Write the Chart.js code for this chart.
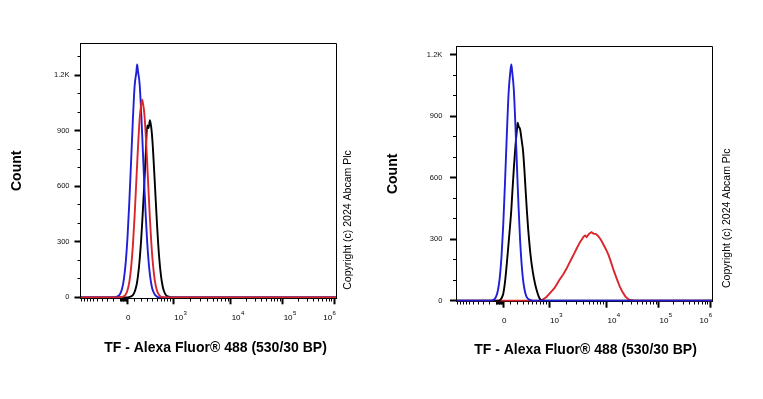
<!DOCTYPE html>
<html><head><meta charset="utf-8">
<script src="https://cdn.jsdelivr.net/npm/chart.js@4.4.1/dist/chart.umd.min.js"></script>
<style>
html,body{margin:0;padding:0;background:#fff;width:763px;height:399px;overflow:hidden}
canvas{position:absolute;top:0}
#c1{left:0}
#c2{left:380px}
</style></head><body>
<canvas id="c1" width="380" height="399"></canvas>
<canvas id="c2" width="383" height="399"></canvas>
<script>
// ---------- data (raw fluorescence bins -> counts) ----------
const leftBins  = [-1100,-300,-200,-150,-125,-100,-75,-50,-25,0,25,50,75,100,125,137,150,175,200,215,225,250,275,300,325,350,375,400,450,500,550,600,650,700,750,800,900,1000,1100000];
const leftBlue  = [0,0,0,4,9,22,48,100,188,325,512,733,957,1140,1215,1258,1220,1151,990,876,797,604,434,297,195,123,75,44,15,4,0,0,0,0,0,0,0,0,0];
const leftRed   = [0,0,0,0,0,1,2,6,16,38,82,159,278,439,627,718,813,964,1045,1068,1052,993,872,723,568,426,305,211,92,36,13,4,1,0,0,0,0,0,0];
const leftBlack = [0,0,0,0,0,0,0,0,0,0,2,5,12,29,61,84,117,203,320,403,462,615,780,928,914,957,921,845,620,395,222,115,55,25,11,5,1,0,0];

const rightBins  = [-1100,-200,-150,-125,-100,-75,-50,-25,0,25,50,75,100,113,125,150,175,200,210,225,250,275,300,325,350,375,400,450,500,550,600,650,700,750,800,900,1000,1250,1500,1750,2000,2250,2500,2750,3000,3250,3500,3750,4000,4250,4500,4750,5000,5500,6000,6500,7000,7500,8000,9000,10000,11000,12000,13000,14000,15000,16000,18000,20000,23000,26000,30000,35000,1100000];
const rightBlue  = [0,0,3,8,21,51,110,215,376,587,817,1018,1120,1152,1120,1030,850,644,562,451,293,180,104,58,30,15,8,2,
  0,0,0,0,0,0,0,0,0,0, 0,0,0,0,0,0,0,0,0,0, 0,0,0,0,0,0,0,0,0,0, 0,0,0,0,0,0,0,0,0,0, 0,0,0,0,0,0];
const rightBlack = [0,0,0,0,0,0,2,12,35,95,185,284,384,442,510,643,755,840,868,850,835,785,732,640,530,430,345,220,140,86,48,21,5,
  0,0,0,0,0,0,0,0,0,0, 0,0,0,0,0,0,0,0,0,0, 0,0,0,0,0,0,0,0,0,0, 0,0,0,0,0,0,0,0,0,0, 0];
const rightRed   = [0,0,0,0,0,0,0,0,0,0, 0,0,0,0,0,0,0,0,0,0, 0,0,0,0,0,0,0,0,0,0, 0,0,0,
  3,8,18,32,62,100,126,154,183,208,231,252,271,287,300,312,318,310,318,327,334,326,326,318,308,297,270,245,222,194,167,143,122,103,70,46,21,8,2,0,0];

// ---------- axis ticks / labels ----------
const xMajorRaw  = [0, 1000, 10000, 100000, 1000000];
const xMajorBase = ['0', '10', '10', '10', '10'];
const xMajorExp  = ['', '3', '4', '5', '6'];
const xMinorRaw  = [-1000,-900,-800,-700,-600,-500,-400,-300,-200,-100,-90,-80,-70,-60,-50,-40,-30,-20,-10,
  100,200,300,400,500,600,700,800,900,2000,3000,4000,5000,6000,7000,8000,9000,
  20000,30000,40000,50000,60000,70000,80000,90000,200000,300000,400000,500000,600000,700000,800000,900000];
const yMajor       = [0, 300, 600, 900, 1200];
const yMajorLabels = ['0', '300', '600', '900', '1.2K'];
const yTicksLeft   = [0,100,200,300,400,500,600,700,800,900,1000,1100,1200,1300];
const yTicksRight  = [0,100,200,300,400,500,600,700,800,900,1000,1100,1200];
const xTitle = 'TF - Alexa Fluor\u00AE 488 (530/30 BP)';
const yTitle = 'Count';
const copyrightText = 'Copyright (c) 2024 Abcam Plc';

const FONT = "'Liberation Sans', Arial, Helvetica, sans-serif";
const BLUE = '#1f1fd8', RED = '#d8262c', BLACK = '#000000';

// biexponential-style display transform (raw value -> display channel)
function T(v) {
  const a = Math.abs(v);
  let d;
  if (a <= 1000) d = 26.6 * Math.asinh(a / 370);
  else if (a <= 1e4) d = 45.75 + 57.4 * Math.log10(a / 1e3);
  else if (a <= 1e5) d = 103.15 + 52 * Math.log10(a / 1e4);
  else d = 155.15 + 51.6 * Math.log10(a / 1e5);
  return v < 0 ? -d : d;
}
const xAllRaw = xMajorRaw.concat(xMinorRaw).sort((a, b) => a - b);
const xMajorDisp = xMajorRaw.map(T);
const isXMajor = c => !c.tick || xMajorDisp.some(m => Math.abs(m - c.tick.value) < 1e-6);
const isYMajor = c => !c.tick || c.tick.value % 300 === 0;

const decorPlugin = {
  id: 'decor',
  afterDraw(chart, args, o) {
    const {ctx, chartArea: ca} = chart;
    const xs = chart.scales.x;
    ctx.save();
    ctx.strokeStyle = '#000'; ctx.lineWidth = 1;
    const L = Math.round(ca.left - 0.5) + 0.5, R = Math.round(ca.right - 0.5) + 0.5;
    const Tp = Math.round(ca.top - 0.5) + 0.5, B = Math.round(ca.bottom - 0.5) + 0.5;
    ctx.beginPath(); ctx.moveTo(L, B); ctx.lineTo(L, Tp); ctx.lineTo(R, Tp); ctx.lineTo(R, B); ctx.stroke();

    const base = ca.bottom + o.labelDy;
    ctx.fillStyle = '#000'; ctx.textBaseline = 'alphabetic';
    xMajorRaw.forEach((r, i) => {
      const px = xs.getPixelForValue(T(r));
      ctx.font = '8px ' + FONT;
      if (!xMajorExp[i]) { ctx.textAlign = 'center'; ctx.fillText(xMajorBase[i], px + 0.8, base); return; }
      const w1 = ctx.measureText(xMajorBase[i]).width;
      ctx.font = '6px ' + FONT;
      const w2 = ctx.measureText(xMajorExp[i]).width;
      let sx = px + 1;
      if (sx + w1 + w2 + 0.5 > ca.right) sx = ca.right - w1 - w2 - 0.5;
      ctx.textAlign = 'left';
      ctx.font = '8px ' + FONT; ctx.fillText(xMajorBase[i], sx, base);
      ctx.font = '6px ' + FONT; ctx.fillText(xMajorExp[i], sx + w1 + 0.4, base - 5.5);
    });

    ctx.fillStyle = '#000'; ctx.font = 'bold 14px ' + FONT;
    ctx.textAlign = 'center'; ctx.textBaseline = 'middle';
    ctx.fillText(xTitle, o.titleX, o.titleY);

    ctx.translate(o.copyX, o.copyY); ctx.rotate(-Math.PI / 2);
    ctx.font = '10.5px ' + FONT;
    ctx.fillText(copyrightText, 0, 0);
    ctx.restore();
  }
};

function makeChart(id, p) {
  return new Chart(document.getElementById(id), {
    type: 'line',
    data: {
      datasets: p.series.map(s => ({
        label: s.name,
        data: s.xs.map((r, i) => ({x: T(r), y: s.ys[i]})),
        borderColor: s.color, backgroundColor: s.color,
        borderWidth: 1.9, pointRadius: 0, fill: false,
        cubicInterpolationMode: s.smooth ? 'monotone' : 'default',
        tension: s.smooth ? 0.4 : 0
      }))
    },
    options: {
      responsive: false, animation: false, devicePixelRatio: 1,
      layout: {padding: p.pad},
      plugins: {legend: {display: false}, tooltip: {enabled: false}, decor: p.decor},
      scales: {
        x: {
          type: 'linear', min: p.xMin, max: p.xMax,
          afterFit(s) { s.height = p.xHeight; },
          afterBuildTicks(s) { s.ticks = xAllRaw.map(r => ({value: T(r)})); },
          ticks: {display: false, autoSkip: false},
          grid: {display: true, drawOnChartArea: false, drawTicks: true, tickLength: 6, tickColor: '#000',
            tickWidth: c => isXMajor(c) ? 2 : 1,
            tickBorderDash: c => isXMajor(c) ? [] : [2.5, 10],
            tickBorderDashOffset: 0},
          border: {display: true, color: '#000', width: 1}
        },
        y: {
          type: 'linear', min: p.yMin, max: p.yMax,
          afterFit(s) { s.width = p.yWidth; },
          afterBuildTicks(s) { s.ticks = p.yTicks.map(v => ({value: v})); },
          ticks: {autoSkip: false, padding: p.yLabPad, color: '#111', font: {family: FONT, size: 7.5},
            callback: v => { const i = yMajor.indexOf(v); return i >= 0 ? yMajorLabels[i] : ''; }},
          grid: {display: true, drawOnChartArea: false, drawTicks: true, tickLength: 6, tickColor: '#000',
            tickWidth: c => isYMajor(c) ? 2 : 1,
            tickBorderDash: c => isYMajor(c) ? [] : [3, 3],
            tickBorderDashOffset: c => isYMajor(c) ? 0 : 3},
          border: {display: true, color: '#000', width: 1},
          title: {display: true, text: yTitle, color: '#000',
            font: {family: FONT, size: 14, weight: 'bold'}, padding: {top: p.yTitlePad, bottom: 0}}
        }
      }
    },
    plugins: [decorPlugin]
  });
}

makeChart('c1', {
  series: [
    {name: 'TF antibody', xs: leftBins, ys: leftRed, color: RED, smooth: true},
    {name: 'Isotype control', xs: leftBins, ys: leftBlue, color: BLUE, smooth: true},
    {name: 'Unlabelled control', xs: leftBins, ys: leftBlack, color: BLACK, smooth: true}
  ],
  pad: {left: 0, right: 44, top: 43.3, bottom: 0},
  xMin: -47, xMax: 208.5, yMin: -5, yMax: 1372,
  xHeight: 100.7, yWidth: 80.5, yTicks: yTicksLeft, yLabPad: 5, yTitlePad: 8.6,
  decor: {labelDy: 21.7, titleX: 215.5, titleY: 348, copyX: 348.5, copyY: 220}
});

makeChart('c2', {
  series: [
    {name: 'Isotype control', xs: rightBins, ys: rightBlue, color: BLUE, smooth: true},
    {name: 'Unlabelled control', xs: rightBins, ys: rightBlack, color: BLACK, smooth: true},
    {name: 'TF antibody', xs: rightBins, ys: rightRed, color: RED, smooth: false}
  ],
  pad: {left: 0, right: 50.7, top: 46, bottom: 0},
  xMin: -47.3, xMax: 209, yMin: -5, yMax: 1242,
  xHeight: 97.3, yWidth: 76, yTicks: yTicksRight, yLabPad: 7.7, yTitlePad: 4.6,
  decor: {labelDy: 20.8, titleX: 205.5, titleY: 350, copyX: 346.7, copyY: 218.3}
});
</script></body></html>
